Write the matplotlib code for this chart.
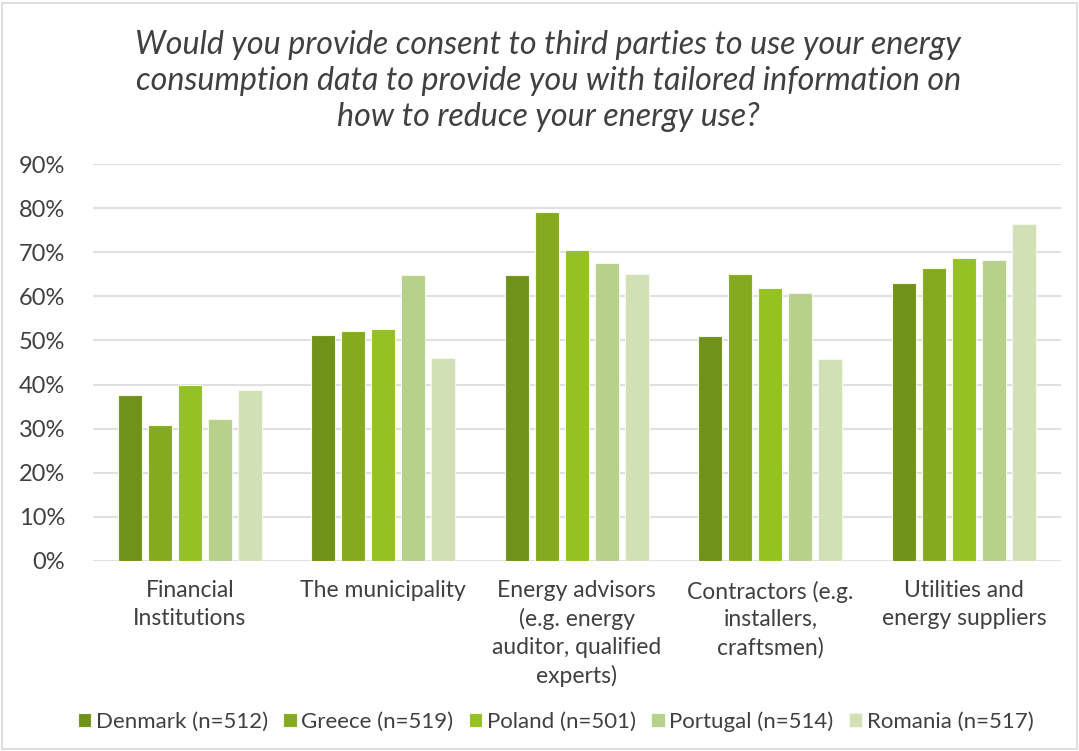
import matplotlib
matplotlib.use("Agg")
import matplotlib.pyplot as plt
import numpy as np
from matplotlib.patches import Rectangle

categories = [
    "Financial\nInstitutions",
    "The municipality",
    "Energy advisors\n(e.g. energy\nauditor, qualified\nexperts)",
    "Contractors (e.g.\ninstallers,\ncraftsmen)",
    "Utilities and\nenergy suppliers",
]
series_names = [
    "Denmark (n=512)",
    "Greece (n=519)",
    "Poland (n=501)",
    "Portugal (n=514)",
    "Romania (n=517)",
]
denmark = [37.7, 51.3, 64.9, 51.0, 63.0]
greece = [30.9, 52.1, 79.2, 65.1, 66.4]
poland = [40.0, 52.5, 70.6, 61.9, 68.7]
portugal = [32.1, 64.8, 67.5, 60.8, 68.3]
romania = [38.8, 46.1, 65.1, 45.9, 76.3]
yticks = [0, 10, 20, 30, 40, 50, 60, 70, 80, 90]

colors = ["#71921a", "#85aa20", "#96c123", "#b7d08a", "#d2e0b6"]
values = [denmark, greece, poland, portugal, romania]

plt.rcParams["font.family"] = ["Lato", "DejaVu Sans"]

fig = plt.figure(figsize=(10.79, 7.51), dpi=100)
fig.patches.append(Rectangle((0.002, 0.002), 0.996, 0.994, transform=fig.transFigure,
                             fill=False, edgecolor="#d9d9d9", linewidth=1.2))
ax = fig.add_axes([0.0862, 0.253, 0.8968, 0.5286])

x = np.arange(len(categories))
pitch = 0.155
width = 0.124
for i, (name, vals, color) in enumerate(zip(series_names, values, colors)):
    offset = (i - 2) * pitch
    ax.bar(x + offset, vals, width, color=color, label=name,
           edgecolor="#f4f7ec", linewidth=0.8, zorder=3)

ax.set_xlim(-0.5, len(categories) - 0.5)
ax.set_ylim(0, 90)
ax.set_yticks(yticks)
ax.set_yticklabels([f"{v}%" for v in yticks], fontsize=17, color="#404040")
ax.set_xticks(x)
ax.set_xticklabels(categories, fontsize=16.5, color="#404040", linespacing=1.38)
ax.tick_params(length=0, pad=14)
ax.tick_params(axis="y", pad=20)
ax.grid(axis="y", color="#e0e0e0", linewidth=1.5, zorder=0)
for side in ["top", "right", "left", "bottom"]:
    ax.spines[side].set_visible(False)

fig.text(0.508, 0.96,
         "Would you provide consent to third parties to use your energy\n"
         "consumption data to provide you with tailored information on\n"
         "how to reduce your energy use?",
         ha="center", va="top", fontsize=23.2, style="italic",
         color="#404040", linespacing=1.24)

fig.legend(loc="center", bbox_to_anchor=(0.515, 0.039), ncol=5, frameon=False,
           fontsize=16, handlelength=0.6, handleheight=0.6, handletextpad=0.2,
           columnspacing=0.7, labelcolor="#404040")

fig.savefig("out.png", dpi=100)
